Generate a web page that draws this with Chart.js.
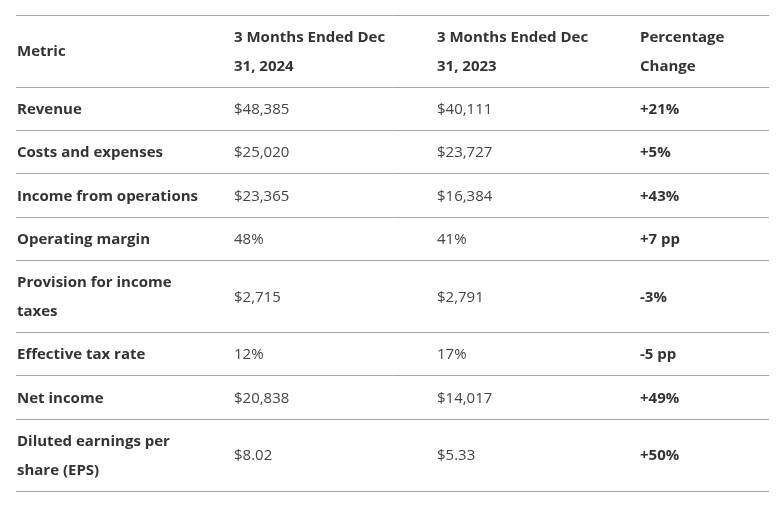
<!DOCTYPE html>
<html>
<head>
<meta charset="utf-8">
<script src="https://cdn.jsdelivr.net/npm/chart.js@4"></script>
<style>
  html, body { margin: 0; padding: 0; background: #fff; }
  #wrap { width: 781px; height: 507px; }
</style>
</head>
<body>
<div id="wrap"><canvas id="table-chart"></canvas></div>
<script>
// table content
const headers = [['Metric'], ['3 Months Ended Dec', '31, 2024'], ['3 Months Ended Dec', '31, 2023'], ['Percentage', 'Change']];
const metrics = [
  ['Revenue'], ['Costs and expenses'], ['Income from operations'], ['Operating margin'],
  ['Provision for income', 'taxes'], ['Effective tax rate'], ['Net income'], ['Diluted earnings per', 'share (EPS)']
];
const q4_2024 = ['$48,385', '$25,020', '$23,365', '48%', '$2,715', '12%', '$20,838', '$8.02'];
const q4_2023 = ['$40,111', '$23,727', '$16,384', '41%', '$2,791', '17%', '$14,017', '$5.33'];
const pctChange = ['+21%', '+5%', '+43%', '+7 pp', '-3%', '-5 pp', '+49%', '+50%'];

// layout
const colStart = [1, 218, 421, 624];
const colBold = [true, false, false, true];
const lineH = 28.7;
const rowPad = 14.6;
const textShift = 1;
const fontFamily = "'Open Sans', sans-serif";

// cells per row, header first
const rows = [headers];
metrics.forEach((m, i) => rows.push([m, [q4_2024[i]], [q4_2023[i]], [pctChange[i]]]));

// row boundaries from the number of text lines
const bounds = [0];
const mids = [];
rows.forEach(r => {
  const n = Math.max(...r.map(c => c.length));
  const top = bounds[bounds.length - 1];
  const h = n * lineH + rowPad;
  mids.push(top + h / 2);
  bounds.push(top + h);
});
const total = bounds[bounds.length - 1];

const datasets = colStart.map((x, c) => ({
  label: 'col' + c,
  data: rows.map((r, i) => ({ x: x, y: mids[i] })),
  cells: rows.map(r => r[c]),
  pointRadius: 0,
  pointHoverRadius: 0
}));

const cellText = {
  id: 'cellText',
  afterDatasetsDraw(chart) {
    const ctx = chart.ctx;
    ctx.save();
    ctx.textBaseline = 'middle';
    ctx.textAlign = 'left';
    chart.data.datasets.forEach((ds, c) => {
      const meta = chart.getDatasetMeta(c);
      meta.data.forEach((pt, i) => {
        const lines = ds.cells[i];
        const bold = i === 0 || colBold[c];
        ctx.font = (bold ? '700 ' : '400 ') + '15px ' + fontFamily;
        ctx.fillStyle = bold ? '#333333' : '#444444';
        const y0 = pt.y + textShift - (lines.length - 1) * lineH / 2;
        lines.forEach((t, k) => ctx.fillText(t, pt.x, y0 + k * lineH));
      });
    });
    ctx.restore();
  }
};

const padTop = 15.2;

new Chart(document.getElementById('table-chart'), {
  type: 'scatter',
  data: { datasets },
  plugins: [cellText],
  options: {
    responsive: true,
    maintainAspectRatio: false,
    animation: false,
    events: [],
    layout: { padding: { left: 16, right: 12, top: padTop, bottom: 507 - padTop - total } },
    plugins: { legend: { display: false }, tooltip: { enabled: false } },
    scales: {
      x: { type: 'linear', min: 0, max: 753, display: false },
      y: {
        type: 'linear', min: 0, max: total, reverse: true,
        afterBuildTicks: s => { s.ticks = bounds.map(v => ({ value: v })); },
        ticks: { display: false, padding: 0 },
        grid: { color: '#a6a6a6', lineWidth: 1, drawTicks: false },
        border: { display: false }
      }
    }
  }
});
</script>
</body>
</html>
